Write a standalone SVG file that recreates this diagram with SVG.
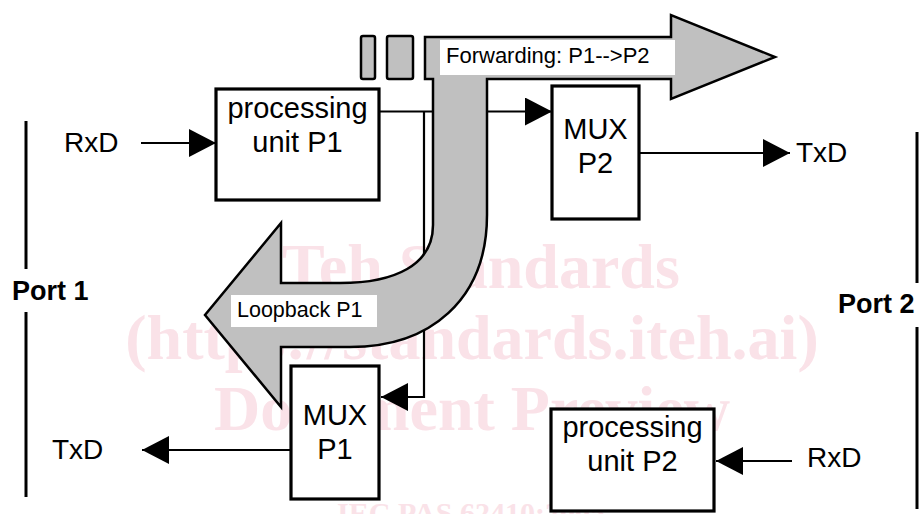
<svg xmlns="http://www.w3.org/2000/svg" width="924" height="514" viewBox="0 0 924 514">
<style>
.wm{font-family:"Liberation Serif",serif;font-weight:bold;fill:#fae2e8;text-anchor:middle}
.box{fill:#fff;stroke:#000;stroke-width:3.2}
.lbl{font-family:"Liberation Sans",Arial,sans-serif;font-size:29px;fill:#000;text-anchor:middle}
.sig{font-family:"Liberation Sans",Arial,sans-serif;font-size:28px;fill:#000}
.port{font-family:"Liberation Sans",Arial,sans-serif;font-size:27px;font-weight:bold;fill:#000}
.con{fill:none;stroke:#000;stroke-width:2.2}
.gray{fill:#c0c0c0;stroke:#000;stroke-width:2.5;stroke-linejoin:miter}
.tag{font-family:"Liberation Sans",Arial,sans-serif;fill:#000}
</style>
<defs>
<marker id="ah" markerUnits="userSpaceOnUse" viewBox="0 0 27 28" refX="27" refY="14" markerWidth="27" markerHeight="28" orient="auto">
<path d="M0,0 L27,14 L0,28 Z" fill="#000"/>
</marker>
</defs>
<rect width="924" height="514" fill="#fff"/>
<g id="watermark">
<text class="wm" x="472" y="288" font-size="64">iTeh Standards</text>
<text class="wm" x="472" y="359" font-size="64">(https://standards.iteh.ai)</text>
<text class="wm" x="472" y="430" font-size="64">Document Preview</text>
<text class="wm" x="471" y="523" font-size="30">IEC PAS 62410:2005</text>
</g>
<g id="ports">
<line x1="26" y1="121" x2="26" y2="269" stroke="#000" stroke-width="3"/>
<text class="port" x="12" y="300">Port 1</text>
<line x1="26" y1="312" x2="26" y2="497" stroke="#000" stroke-width="3"/>
<line x1="917" y1="132" x2="917" y2="283" stroke="#000" stroke-width="3"/>
<text class="port" x="838" y="313">Port 2</text>
<line x1="917" y1="327" x2="917" y2="509" stroke="#000" stroke-width="3"/>
</g>
<g id="connectors">
<line class="con" x1="141" y1="143" x2="216" y2="143" marker-end="url(#ah)"/>
<line class="con" x1="379" y1="111.5" x2="552" y2="111.5" marker-end="url(#ah)"/>
<polyline class="con" points="424,111.5 424,397 381,397" marker-end="url(#ah)"/>
<line class="con" x1="639" y1="153" x2="790" y2="153" marker-end="url(#ah)"/>
<line class="con" x1="291" y1="450" x2="142" y2="450" marker-end="url(#ah)"/>
<line class="con" x1="792" y1="461" x2="716" y2="461" marker-end="url(#ah)"/>
</g>
<g id="flow-arrows">
<rect class="gray" x="361" y="36" width="14" height="43" rx="2"/>
<rect class="gray" x="387" y="36" width="26" height="43" rx="2"/>
<path class="gray" d="M425,37 L671,37 L671,15 L775,57 L671,99 L671,79 L487,79 L487,215 C487,300 430,347 350,347 L281,347 L281,407 L205,315 L281,223 L281,283 L340,283 C395,283 433,265 433,225 L433,79 L425,79 Z"/>
<rect x="440" y="40" width="235" height="35" fill="#fff"/>
<text class="tag" x="446" y="63" font-size="22">Forwarding: P1--&gt;P2</text>
<rect x="231" y="295" width="146" height="32" fill="#fff"/>
<text class="tag" x="237" y="317" font-size="21.5">Loopback P1</text>
</g>
<g id="signals">
<text class="sig" x="64" y="152">RxD</text>
<text class="sig" x="796" y="162">TxD</text>
<text class="sig" x="52" y="459">TxD</text>
<text class="sig" x="807" y="467">RxD</text>
</g>
<g id="proc-p1">
<rect class="box" x="216" y="89" width="163" height="111"/>
<text class="lbl" x="297.5" y="118">processing</text>
<text class="lbl" x="297.5" y="152">unit P1</text>
</g>
<g id="mux-p2">
<rect class="box" x="552" y="86" width="87" height="133"/>
<text class="lbl" x="595.5" y="139">MUX</text>
<text class="lbl" x="595.5" y="173">P2</text>
</g>
<g id="mux-p1">
<rect class="box" x="291" y="366" width="88" height="133"/>
<text class="lbl" x="335" y="425">MUX</text>
<text class="lbl" x="335" y="459">P1</text>
</g>
<g id="proc-p2">
<rect class="box" x="551" y="409" width="163" height="102"/>
<text class="lbl" x="632.5" y="437">processing</text>
<text class="lbl" x="632.5" y="471">unit P2</text>
</g>
</svg>
